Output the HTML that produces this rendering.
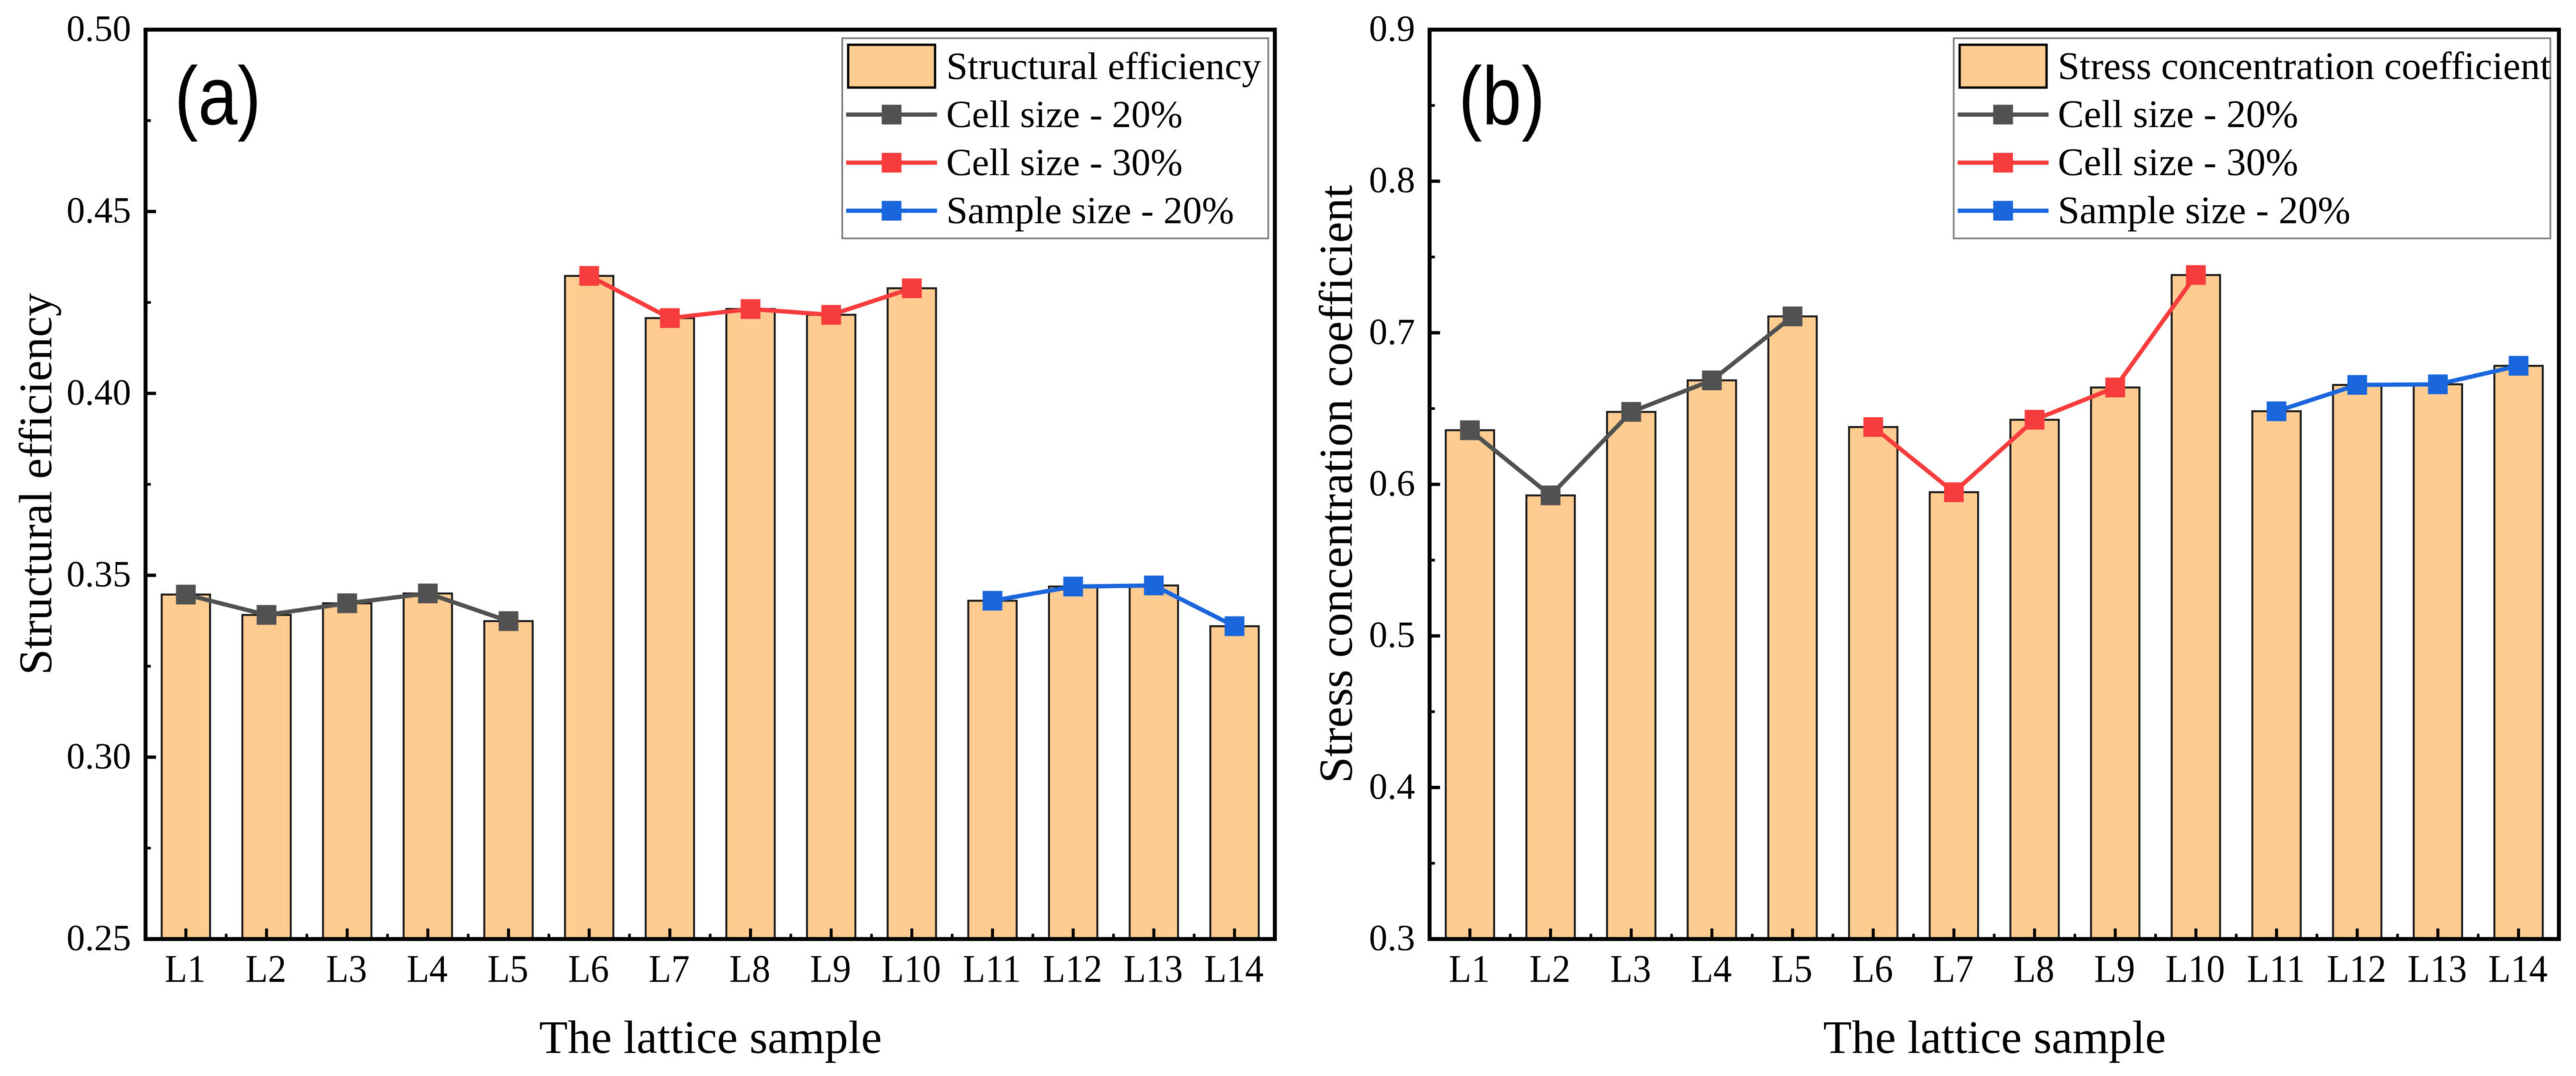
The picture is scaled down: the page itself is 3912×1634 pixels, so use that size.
<!DOCTYPE html>
<html lang="en">
<head>
<meta charset="utf-8">
<title>Structural efficiency and stress concentration coefficient of lattice samples</title>
<style>
html,body{margin:0;padding:0;background:#fff;width:3912px;height:1634px;overflow:hidden}
svg{display:block;filter:blur(0.6px)}
text{font-family:"Liberation Serif","Times New Roman",serif;fill:#000}
</style>
</head>
<body>
<svg id="figure" xmlns="http://www.w3.org/2000/svg" width="3912" height="1634" viewBox="0 0 3912 1634">
<rect x="0" y="0" width="3912" height="1634" fill="#ffffff"/>
</svg>
<script>
const categories = ['L1','L2','L3','L4','L5','L6','L7','L8','L9','L10','L11','L12','L13','L14'];

const efficiencyBars = [0.3447,0.3391,0.3423,0.3450,0.3374,0.4323,0.4207,0.4232,0.4216,0.4289,0.3430,0.3469,0.3472,0.3360];
const efficiencyCell20 = [0.3447,0.3391,0.3423,0.3450,0.3374];
const efficiencyCell30 = [0.4323,0.4207,0.4232,0.4216,0.4289];
const efficiencySample20 = [0.3430,0.3469,0.3472,0.3360];
const efficiencyTicks = ['0.25','0.30','0.35','0.40','0.45','0.50'];

const stressBars = [0.6357,0.5927,0.6478,0.6686,0.7108,0.6378,0.5948,0.6426,0.6639,0.7381,0.6482,0.6656,0.6660,0.6782];
const stressCell20 = [0.6357,0.5927,0.6478,0.6686,0.7108];
const stressCell30 = [0.6378,0.5948,0.6426,0.6639,0.7381];
const stressSample20 = [0.6482,0.6656,0.6660,0.6782];
const stressTicks = ['0.3','0.4','0.5','0.6','0.7','0.8','0.9'];

const cell20Categories = ['L1','L2','L3','L4','L5'];
const cell30Categories = ['L6','L7','L8','L9','L10'];
const sample20Categories = ['L11','L12','L13','L14'];

const NS = 'http://www.w3.org/2000/svg';
const figure = document.getElementById('figure');
const COLORS = {bar:'#FECC90', barEdge:'#1c1c1c', cell20:'#515151', cell30:'#F63C3C', sample20:'#1A66DC'};

function mk(parent, tag, attrs, content){
  const el = document.createElementNS(NS, tag);
  for (const k in attrs) el.setAttribute(k, attrs[k]);
  if (content !== undefined) el.textContent = content;
  parent.appendChild(el);
  return el;
}

function drawPanel(p){
  const left = p.left, right = left + 1715, top = 45, bottom = 1426;
  const g = mk(figure, 'g', {});
  
  

  const tickVals = p.ticks.map(Number);
  const yMin = tickVals[0], yMax = tickVals[tickVals.length - 1];
  const yScale = v => bottom - (v - yMin) / (yMax - yMin) * (bottom - top);
  const band = (right - left) / categories.length;
  const xScale = name => left + band * (categories.indexOf(name) + 0.5);
  const barW = band * 0.6;

  // bars
  categories.forEach((c, i) => {
    const y = yScale(p.bars[i]);
    const bar = mk(g, 'rect', {x: xScale(c) - barW / 2, y: y, width: barW, height: bottom - y, fill: COLORS.bar, stroke: COLORS.barEdge, 'stroke-width': 3});
    
    
  });

  // axes frame
  const frame = mk(g, 'rect', {x: left, y: top, width: right - left, height: bottom - top, fill: 'none', stroke: '#000', 'stroke-width': 6});
  
  

  // y ticks
  p.ticks.forEach((t, i) => {
    const v = tickVals[i], y = yScale(v);
    const tick = mk(g, 'line', {x1: left, x2: left + 16, y1: y, y2: y, stroke: '#000', 'stroke-width': 5});
    
    
    const label = mk(g, 'text', {x: left - 22, y: y + 17, 'text-anchor': 'end', 'font-size': 56}, t);
    
    
    if (i < p.ticks.length - 1) {
      const my = yScale((v + tickVals[i + 1]) / 2);
      const minor = mk(g, 'line', {x1: left, x2: left + 8, y1: my, y2: my, stroke: '#000', 'stroke-width': 4});
      
      
    }
  });

  // x ticks
  categories.forEach((c, i) => {
    const x = xScale(c);
    const tick = mk(g, 'line', {x1: x, x2: x, y1: bottom, y2: bottom - 16, stroke: '#000', 'stroke-width': 4.5});
    
    
    const label = mk(g, 'text', {transform: 'translate(' + (x - 1) + ',1491) scale(0.95,1)', 'text-anchor': 'middle', 'font-size': 59}, c);
    
    
    if (i < categories.length - 1) {
      const minor = mk(g, 'line', {x1: x + band / 2, x2: x + band / 2, y1: bottom, y2: bottom - 8, stroke: '#000', 'stroke-width': 4});
      
      
    }
  });

  // line series
  p.series.forEach(s => {
    const pts = s.values.map((v, i) => xScale(s.cats[i]) + ',' + yScale(v)).join(' ');
    const line = mk(g, 'polyline', {points: pts, fill: 'none', stroke: s.color, 'stroke-width': 6.5, 'stroke-linejoin': 'round'});
    
    
    s.values.forEach((v, i) => {
      const m = mk(g, 'rect', {x: xScale(s.cats[i]) - 15, y: yScale(v) - 15, width: 30, height: 30, fill: s.color});
      
      
    });
  });

  // titles
  const xTitle = mk(g, 'text', {x: left + 858, y: 1599, 'text-anchor': 'middle', 'font-size': 71}, 'The lattice sample');
  
  
  const yTitle = mk(g, 'text', {transform: 'translate(' + p.yTitleX + ',' + p.yTitleY + ') rotate(-90)', 'text-anchor': 'middle', 'font-size': p.yTitleSize}, p.title);
  
  

  const letter = mk(g, 'text', {transform: 'translate(' + (left + 44) + ',189) scale(0.86,1)', 'font-size': 125, style: 'font-family:"Liberation Sans",Arial,sans-serif'}, p.letter);
  
  

  // legend
  const L = p.legend;
  const lg = mk(g, 'g', {});
  
  
  const box = mk(lg, 'rect', {x: L.x, y: 58, width: L.w, height: 304, fill: '#fff', stroke: '#7a7a7a', 'stroke-width': 2.5});
  
  
  const swatch = mk(lg, 'rect', {x: L.x + 9, y: 68, width: 132, height: 65, fill: COLORS.bar, stroke: '#000', 'stroke-width': 3.5});
  
  
  const barText = mk(lg, 'text', {x: L.x + 158, y: 120, 'font-size': L.size}, p.title);
  
  
  p.series.forEach((s, i) => {
    const cy = 174 + i * 73;
    const sx = L.x + 6, ex = L.x + 144, mx = (sx + ex) / 2;
    const ln = mk(lg, 'line', {x1: sx, x2: ex, y1: cy, y2: cy, stroke: s.color, 'stroke-width': 6.5});
    
    
    const mark = mk(lg, 'rect', {x: mx - 15, y: cy - 15, width: 30, height: 30, fill: s.color});
    
    
    const tx = mk(lg, 'text', {x: L.x + 158, y: 193 + i * 73, 'font-size': L.size}, s.label);
    
    
  });
}

drawPanel({
  id:'a', letter:'(a)', left:221, title:'Structural efficiency',
  bars:efficiencyBars, ticks:efficiencyTicks,
  yTitleX:78, yTitleY:735, yTitleSize:71,
  legend:{x:1279, w:647, size:58.5},
  series:[
    {key:'cell-size-20', label:'Cell size - 20%', color:COLORS.cell20, cats:cell20Categories, values:efficiencyCell20},
    {key:'cell-size-30', label:'Cell size - 30%', color:COLORS.cell30, cats:cell30Categories, values:efficiencyCell30},
    {key:'sample-size-20', label:'Sample size - 20%', color:COLORS.sample20, cats:sample20Categories, values:efficiencySample20}
  ]
});
drawPanel({
  id:'b', letter:'(b)', left:2171, title:'Stress concentration coefficient',
  bars:stressBars, ticks:stressTicks,
  yTitleX:2053, yTitleY:735, yTitleSize:72.2,
  legend:{x:2967, w:906, size:59.5},
  series:[
    {key:'cell-size-20', label:'Cell size - 20%', color:COLORS.cell20, cats:cell20Categories, values:stressCell20},
    {key:'cell-size-30', label:'Cell size - 30%', color:COLORS.cell30, cats:cell30Categories, values:stressCell30},
    {key:'sample-size-20', label:'Sample size - 20%', color:COLORS.sample20, cats:sample20Categories, values:stressSample20}
  ]
});
</script>
</body>
</html>
